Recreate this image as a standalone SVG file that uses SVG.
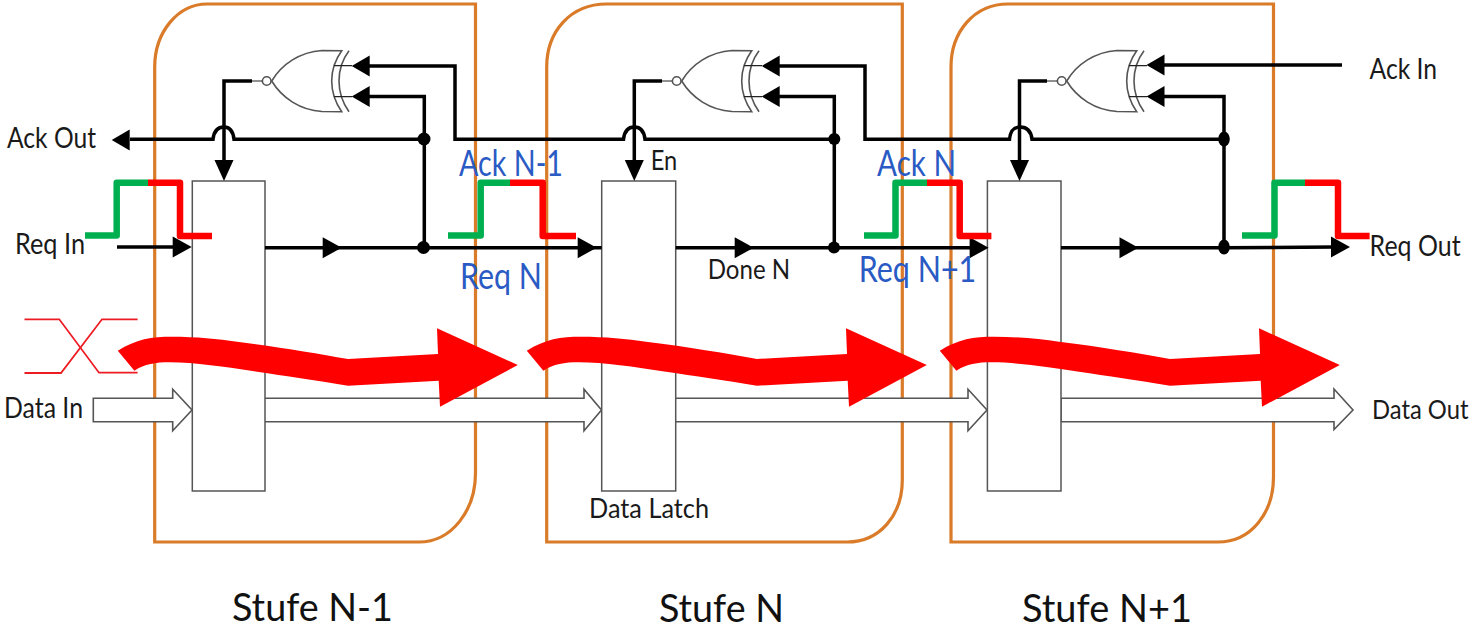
<svg xmlns="http://www.w3.org/2000/svg" width="1471" height="630" viewBox="0 0 1471 630">
<style>
text{font-family:"Lato","Open Sans","Liberation Sans",sans-serif;fill:#1a1a1a}
.sm{font-size:28px}.md{font-size:27px}
.blue{font-size:36px;fill:#2a5bc4}
.big{font-size:39.5px;fill:#111}
.stage{fill:none;stroke:#d97b28;stroke-width:3.2}
.latch{fill:#fff;stroke:#555;stroke-width:1.5}
.wire{fill:none;stroke:#000;stroke-width:3.5}
.thin{fill:none;stroke:#222;stroke-width:1.2}
.gate{fill:#fff;stroke:#555;stroke-width:1.6}
.gl{fill:none;stroke:#555;stroke-width:1.6}
.bus{fill:#fff;stroke:#555;stroke-width:1.6}
.green{fill:none;stroke:#00b050;stroke-width:6.5;stroke-linejoin:round}
.red{fill:none;stroke:#f00;stroke-width:6.5;stroke-linejoin:round}
.x{fill:none;stroke:#ed1c24;stroke-width:1.8}
</style>
<defs>
<polygon id="ah-r" points="-19,-10.5 0,0 -19,10.5" fill="#000"/>
<polygon id="ah-l" points="18,-10.5 0,0 18,10.5" fill="#000"/>
<polygon id="ah-d" points="-9.5,-21 0,0 9.5,-21" fill="#000"/>
<path id="flow" fill="#f00" d="M117.8,350.7 C136,339 152,336.7 172,336.7 C196,336.7 218,339 237,341.7 C280,347 315,353 348,359 L438,354 L437,328.3 L517.8,365 L440,406.7 L438.7,380.7 L348,385.7 C315,380 285,376 257,371.7 C225,367 195,362.3 170,362.3 C155,362.3 145,364 134.4,370.7 Z"/>
<g id="xnor">
<path class="gate" d="M271.7,81 C282,64 300,52 322,50.5 L341.7,50.7 C335,60 331.7,70 331.7,81 C331.7,92 335,102 341.7,111.7 L322,111.5 C300,110 282,98 271.7,81 Z"/>
<path class="gl" d="M349,50.7 C342,60 339,70 339,81 C339,92 342,102 349,111.7"/>
<circle class="gate" cx="266.7" cy="81" r="4.3"/>
<path class="thin" d="M334,65.7H352M334,96.7H352M251,81H262"/>
</g>
</defs>
<rect width="1471" height="630" fill="#fff"/>

<g id="stage-n-1"><path class="stage" d="M207,4H475.5V473C475.5,510 452,542 419,542H154.7V67C154.7,32 178,4 207,4Z"/></g>
<g id="stage-n"><path class="stage" d="M606.7,4H902.3V480C902.3,515 880,542 847,542H546.7V67C546.7,32 570,4 606.7,4Z"/></g>
<g id="stage-n1"><path class="stage" d="M1008,4H1273.5V477C1273.5,513 1251,542 1218,542H951V67C951,32 974,4 1008,4Z"/></g>

<g id="data-connectors">
<path class="bus" d="M93.3,398.3H172.7V389.3L192,410L172.7,430.7V421.7H93.3Z"/>
<path class="bus" d="M265,398.3H584V389.3L601.5,410L584,430.7V421.7H265"/>
<path class="bus" d="M675.7,398.3H968V389.3L987,410L968,430.7V421.7H675.7"/>
<path class="bus" d="M1061,398.3H1334V389L1353,410L1334,429.5V421.7H1061Z"/>
</g>

<g id="latch-1"><rect class="latch" x="192.3" y="181" width="72.7" height="310"/></g>
<g id="latch-2"><rect class="latch" x="601.7" y="181" width="74" height="310"/></g>
<g id="latch-3"><rect class="latch" x="987.4" y="181" width="73.6" height="310"/></g>

<g id="xnor-1"><use href="#xnor"/></g>
<g id="xnor-2"><use href="#xnor" x="410"/></g>
<g id="xnor-3"><use href="#xnor" x="795"/></g>

<g id="connectors">
<path class="wire" d="M130,139.3H213C214,130 219,127 224,127C229,127 233,130 234,139.3H424"/>
<path class="wire" d="M369,66H455V139.3H623.5C624.5,130 629,127 634.3,127C639.5,127 644,130 645,139.3H834"/>
<path class="wire" d="M779,66H865V139.3H1009.5C1010.5,130 1014,127 1020,127C1026,127 1031,130 1032,139.3H1224"/>
<path class="wire" d="M1164,65H1342"/>
<path class="wire" d="M369,96.5H424.3V248"/>
<path class="wire" d="M779,96.5H834.3V248"/>
<path class="wire" d="M1164,96.5H1224V248"/>
<path class="wire" d="M252,81H224V162"/>
<path class="wire" d="M662,81H634.3V162"/>
<path class="wire" d="M1047,81H1019.5V162"/>
<path class="wire" d="M117,247H175"/>
<path class="wire" d="M265,247.7H601.7"/>
<path class="wire" d="M675.7,247.7H972"/>
<path class="wire" d="M1061,247.7H1224L1335,247"/>
<use href="#ah-l" x="351.7" y="66"/><use href="#ah-l" x="351.7" y="96.5"/>
<use href="#ah-l" x="761.7" y="66"/><use href="#ah-l" x="761.7" y="96.5"/>
<use href="#ah-l" x="1146.5" y="65"/><use href="#ah-l" x="1146.5" y="96.5"/>
<use href="#ah-l" x="111.7" y="140"/>
<use href="#ah-d" x="224" y="181"/><use href="#ah-d" x="634.3" y="181"/><use href="#ah-d" x="1019.5" y="181"/>
<use href="#ah-r" x="191.7" y="247"/><use href="#ah-r" x="341.7" y="247.7"/>
<use href="#ah-r" x="596.7" y="247.7"/><use href="#ah-r" x="753.7" y="247.7"/>
<use href="#ah-r" x="988.6" y="247.7"/><use href="#ah-r" x="1138.5" y="247.7"/>
<use href="#ah-r" x="1350" y="247"/>
<circle cx="424" cy="139" r="6.5"/><circle cx="423.5" cy="247.5" r="6.5"/>
<circle cx="834.3" cy="139" r="6"/><circle cx="834" cy="247.5" r="6"/>
<ellipse cx="1224" cy="139" rx="5.8" ry="7.5"/><ellipse cx="1224" cy="247" rx="5.8" ry="7.5"/>
</g>

<g id="pulses">
<path class="green" d="M85,235.5H116.7V182.7H148.5"/><path class="red" d="M148,182.7H180V236H212"/>
<path class="green" d="M448,235.5H480.7V182.7H510.5"/><path class="red" d="M510,182.7H542.7V236H576"/>
<path class="green" d="M864,235.5H895.5V182.7H927.5"/><path class="red" d="M927,182.7H959.7V236H991.4"/>
<path class="green" d="M1242,235.5H1274.5V182.7H1305.5"/><path class="red" d="M1305,182.7H1338V236H1369.6"/>
</g>

<g id="signal-x">
<path class="x" d="M24.5,319.3H59.3L99,372.7H137.6"/>
<path class="x" d="M24.5,373H61L102,319.3H137.6"/>
</g>

<g id="data-flow">
<use href="#flow"/><use href="#flow" x="409"/><use href="#flow" x="822"/>
</g>

<g id="labels">
<text class="sm" x="7" y="148" textLength="89" lengthAdjust="spacingAndGlyphs">Ack Out</text>
<text class="sm" x="15" y="254" textLength="70" lengthAdjust="spacingAndGlyphs">Req In</text>
<text class="sm" x="4" y="418" textLength="79" lengthAdjust="spacingAndGlyphs">Data In</text>
<text class="md" x="650.7" y="170" textLength="26.5" lengthAdjust="spacingAndGlyphs">En</text>
<text class="md" x="707.7" y="279" textLength="82.5" lengthAdjust="spacingAndGlyphs">Done N</text>
<text class="sm" x="1369.6" y="79" textLength="67.5" lengthAdjust="spacingAndGlyphs">Ack In</text>
<text class="sm" x="1369.6" y="256" textLength="91" lengthAdjust="spacingAndGlyphs">Req Out</text>
<text transform="translate(1372 419) scale(1 1.15)" font-size="24" textLength="96.5" lengthAdjust="spacingAndGlyphs">Data Out</text>
<text class="md" x="589" y="517.7" textLength="120" lengthAdjust="spacingAndGlyphs">Data Latch</text>
<text class="blue" x="459" y="176" textLength="104" lengthAdjust="spacingAndGlyphs">Ack N-1</text>
<text class="blue" x="460" y="289" textLength="82" lengthAdjust="spacingAndGlyphs">Req N</text>
<text class="blue" x="877" y="176" textLength="79" lengthAdjust="spacingAndGlyphs">Ack N</text>
<text class="blue" x="858.7" y="281.7" textLength="117.5" lengthAdjust="spacingAndGlyphs">Req N+1</text>
<text class="big" x="232" y="621" textLength="161" lengthAdjust="spacingAndGlyphs">Stufe N-1</text>
<text class="big" x="659" y="621.5" textLength="125" lengthAdjust="spacingAndGlyphs">Stufe N</text>
<text class="big" x="1022" y="621.5" textLength="170" lengthAdjust="spacingAndGlyphs">Stufe N+1</text>
</g>
</svg>
